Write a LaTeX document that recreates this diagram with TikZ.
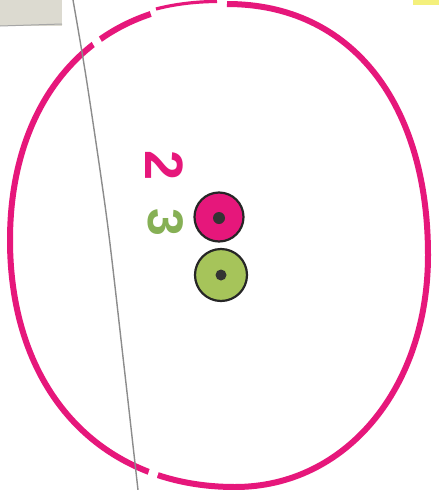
\documentclass[tikz,border=0pt]{standalone}
\usepackage{fontspec}
\newfontfamily\labfont{Liberation Sans}
\definecolor{magpink}{HTML}{E6177B}
\definecolor{leaf}{HTML}{A6C45A}
\definecolor{leafdark}{HTML}{86B055}
\definecolor{roadgray}{HTML}{8C8C8C}
\definecolor{patchgray}{HTML}{DCDAD0}
\definecolor{patchyel}{HTML}{F4F07C}
\tikzset{
  ring/.style={draw=magpink, line width=6pt},
  thinring/.style={draw=magpink, line width=3.2pt},
  gap/.style={draw=white, line width=14pt},
  road/.style={draw=roadgray, line width=1.4pt},
  stop/.style={circle, draw=black!85, line width=2.2pt, minimum size=49pt, inner sep=0pt},
  dot/.style={circle, fill=black!80, minimum size=12pt, inner sep=0pt},
  digit/.style={font=\labfont\bfseries\fontsize{54}{54}\selectfont, rotate=-90, inner sep=0pt}
}
\begin{document}
\begin{tikzpicture}[x=1pt,y=-1pt]
\useasboundingbox (0,0) rectangle (439,490);
\fill[white] (0,0) rectangle (439,490);
% background patches
\fill[patchgray] (0,0) rectangle (62,26);
\draw[gray!70, line width=1pt] (0,26) -- (62,24);
\fill[patchyel] (413,0) rectangle (439,5);
% big circle
\draw[ring] (227,4) .. controls (352,4) and (428,104) .. (428,255)
  .. controls (428,388) and (346,487) .. (235,487)
  .. controls (99,487) and (10,389) .. (10,240)
  .. controls (10,126.4) and (63.4,42.9) .. (150.7,14);
\draw[thinring] (156,9) .. controls (175,4) and (197,1.5) .. (217,1.5);
% gaps in the circle
\draw[gap] (94.5,46.5) -- (102,42.2);
\draw[gap] (148,474) -- (157,477);
% road
\draw[road] plot[smooth] coordinates {(73,0) (87,83) (107,220) (123,357) (138,490)};
% stops
\node[stop, fill=magpink] (pinkstop) at (219,217) {};
\node[dot] (pinkdot) at (219,218) {};
\node[stop, fill=leaf, minimum size=52pt] (greenstop) at (221,275) {};
\node[dot, minimum size=11pt] (greendot) at (221,275) {};
% labels
\node[digit, text=magpink] (lab2) at (164,166) {2};
\node[digit, text=leafdark, font=\labfont\bfseries\fontsize{50}{50}\selectfont] (lab3) at (166,222) {3};
\end{tikzpicture}
\end{document}
